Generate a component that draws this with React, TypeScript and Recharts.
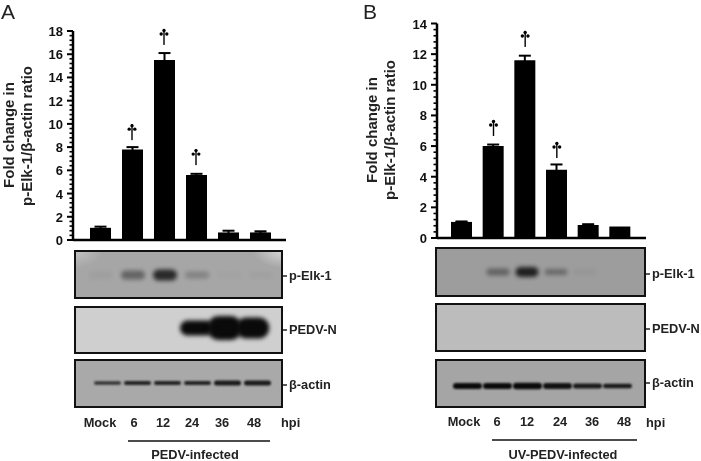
import { ComposedChart, BarChart, Bar, Line, XAxis, YAxis, ErrorBar } from 'recharts';

// bar panels
const hours = ['Mock', '6', '12', '24', '36', '48'];
const foldA = [1.05, 7.8, 15.5, 5.6, 0.65, 0.65];
const errA = [0.1, 0.2, 0.6, 0.1, 0.15, 0.1];
const markA = [null, 8.6, 16.8, 6.45, null, null];
const foldB = [1.05, 6.0, 11.6, 4.45, 0.85, 0.75];
const errB = [0.03, 0.1, 0.3, 0.35, 0.05, 0];
const markB = [null, 6.66, 12.47, 5.22, null, null];
const majorA = [0, 2, 4, 6, 8, 10, 12, 14, 16, 18];
const majorB = [0, 2, 4, 6, 8, 10, 12, 14];

// blot bands, one value per lane (darkness, then height)
const elkA = [0.04, 0.42, 0.8, 0.22, 0.02, 0.03];
const elkHeightA = [8, 9, 11, 7, 6, 6];
const pedvA = [0, 0, 0, 1, 1, 1];
const pedvHeightA = [0, 0, 0, 15, 24, 21];
const actinA = [0.75, 0.85, 0.85, 0.85, 0.9, 0.9];
const actinHeightA = [3.5, 4, 4, 4, 5, 5];
const elkB = [0, 0.4, 0.85, 0.35, 0.05, 0];
const elkHeightB = [6, 7, 10, 6, 5, 5];
const pedvB = [0, 0, 0, 0, 0, 0];
const actinB = [1, 1, 1, 0.95, 0.9, 0.9];
const actinHeightB = [6, 6, 6.5, 6, 5, 4.5];

const FONT = '"Liberation Sans", Arial, sans-serif';

const withMinor = (major: number[]) => {
  const out: number[] = [];
  major.forEach((m, i) => {
    out.push(m);
    if (i < major.length - 1) for (let k = 1; k < 5; k++) out.push(+(m + k * 0.4).toFixed(1));
  });
  return out;
};

const YTick = ({ x, y, payload }: any) => {
  const major = payload.value % 2 === 0;
  return (
    <g>
      <line x1={x - (major ? 6 : 3.5)} x2={x} y1={y} y2={y} stroke="#000" strokeWidth={major ? 2 : 1.6} />
      {major && (
        <text x={x - 10} y={y + 5} textAnchor="end" fontFamily={FONT} fontWeight={700} fontSize={13} fill="#111">
          {payload.value}
        </text>
      )}
    </g>
  );
};

const Dagger = ({ cx, cy, index }: any) => {
  if (cy == null || Number.isNaN(cy)) return <g key={index} />;
  return (
    <g key={index} fill="#000">
      <rect x={cx - 0.7} y={cy - 16} width={1.4} height={16} />
      <circle cx={cx} cy={cy - 14.5} r={1.7} />
      <circle cx={cx - 2.8} cy={cy - 11} r={1.7} />
      <circle cx={cx + 2.8} cy={cy - 11} r={1.7} />
    </g>
  );
};

function FoldChart({ left, width, height, plot, fold, err, mark, major, max, pad }: any) {
  const data = hours.map((h, i) => ({ h, fold: fold[i], err: err[i], mark: mark[i] }));
  return (
    <div style={{ position: 'absolute', left, top: 0 }}>
      <ComposedChart width={width} height={height} data={data} margin={plot}>
        <XAxis dataKey="h" tick={false} tickLine={false} height={1} padding={pad} axisLine={{ stroke: '#000', strokeWidth: 2.5 }} />
        <YAxis
          width={plot.axis}
          domain={[0, max]}
          ticks={withMinor(major)}
          interval={0}
          tickSize={0}
          tickMargin={0}
          tick={<YTick />}
          tickLine={false}
          axisLine={{ stroke: '#000', strokeWidth: 2.5 }}
        />
        <Bar dataKey="fold" fill="#000" barSize={21} isAnimationActive={false}>
          <ErrorBar dataKey="err" direction="y" width={6} strokeWidth={2} stroke="#000" isAnimationActive={false} />
        </Bar>
        <Line dataKey="mark" stroke="none" dot={<Dagger />} activeDot={false} isAnimationActive={false} />
      </ComposedChart>
    </div>
  );
}

const Band = ({ x, width, payload, bandY, blur, spread }: any) => {
  if (!payload.dark) return <g />;
  return (
    <rect
      x={x - spread}
      y={bandY - payload.tall / 2}
      width={width + 2 * spread}
      height={payload.tall}
      rx={Math.min(payload.tall / 2, 10)}
      fill="#0a0a0a"
      opacity={payload.dark}
      style={{ filter: `blur(${blur}px)` }}
    />
  );
};

function Blot({ x, y, w, h, bg, dark, tall, edge, bandY, bandW, blur, spread = 0 }: any) {
  const data = hours.map((lane, i) => ({ lane, dark: dark[i], tall: tall ? tall[i] : 0, v: 1 }));
  return (
    <div style={{ position: 'absolute', left: x, top: y, width: w, height: h, background: bg, overflow: 'hidden' }}>
      <BarChart width={w} height={h} data={data} margin={{ left: edge[0], right: edge[1], top: 0, bottom: 0 }}>
        <XAxis dataKey="lane" hide />
        <YAxis hide domain={[0, 1]} />
        <Bar dataKey="v" barSize={bandW} isAnimationActive={false} shape={<Band bandY={bandY} blur={blur} spread={spread} />} />
      </BarChart>
      <div style={{ position: 'absolute', inset: 0, border: '2.5px solid #111', boxSizing: 'border-box' }} />
    </div>
  );
}

const softCorners = (c: string) =>
  `radial-gradient(ellipse 30px 18px at 100% 0, #d8d8d8, transparent), radial-gradient(ellipse 30px 18px at 0 0, #c4c4c4, transparent), ${c}`;

const labelStyle = { fontFamily: FONT, fontWeight: 700, fontSize: 12.8, fill: '#222' };

export default function App() {
  return (
    <div style={{ position: 'absolute', left: 0, top: 0, width: 701, height: 461, background: '#fff', overflow: 'hidden', filter: 'blur(0.35px)' }}>
      <FoldChart
        left={0}
        width={350}
        height={250}
        plot={{ left: 0, right: 64, top: 31, bottom: 9, axis: 73 }}
        fold={foldA}
        err={errA}
        mark={markA}
        major={majorA}
        max={18}
        pad={{ left: 11, right: 10 }}
      />
      <FoldChart
        left={350}
        width={351}
        height={248}
        plot={{ left: 0, right: 55, top: 23.5, bottom: 9, axis: 87 }}
        fold={foldB}
        err={errB}
        mark={markB}
        major={majorB}
        max={14}
        pad={{ left: 9, right: 10 }}
      />

      <Blot x={74} y={250} w={209} h={49} bg={softCorners('#a6a6a6')} dark={elkA} tall={elkHeightA} edge={[11, 6]} bandY={25} bandW={24} blur={2.2} />
      <Blot x={74} y={306} w={209} h={48} bg="#cfcfcf" dark={pedvA} tall={pedvHeightA} edge={[25, 16]} bandY={22} bandW={28} blur={2} spread={4} />
      <Blot x={74} y={359} w={209} h={49} bg="#a9a9a9" dark={actinA} tall={actinHeightA} edge={[18, 11]} bandY={24} bandW={27} blur={0.8} />

      <Blot x={435} y={247} w={211} h={50} bg="#9d9d9d" dark={elkB} tall={elkHeightB} edge={[19.5, 17.5]} bandY={25} bandW={23} blur={2.2} />
      <Blot x={435} y={303} w={211} h={49} bg="#bcbcbc" dark={pedvB} edge={[17, 14]} bandY={24} bandW={27} blur={1} />
      <Blot x={435} y={359} w={211} h={49} bg="#a5a5a5" dark={actinB} tall={actinHeightB} edge={[17, 14]} bandY={27} bandW={29} blur={0.8} />

      <svg width={701} height={461} style={{ position: 'absolute', left: 0, top: 0 }}>
        <text x={1} y={19} fontFamily={FONT} fontSize={21} fill="#222">A</text>
        <text x={363} y={19} fontFamily={FONT} fontSize={21} fill="#222">B</text>

        {[[14, 135], [32, 136], [377, 130], [395, 130]].map(([x, y], i) => (
          <text key={i} transform={`translate(${x},${y}) rotate(-90)`} textAnchor="middle" fontFamily={FONT} fontWeight={700} fontSize={15} fill="#222">
            {i % 2 === 0 ? 'Fold change in' : 'p-Elk-1/β-actin ratio'}
          </text>
        ))}

        {[[283, 276, 'p-Elk-1'], [283, 330, 'PEDV-N'], [283, 385, 'β-actin'], [646, 274, 'p-Elk-1'], [646, 329, 'PEDV-N'], [646, 383, 'β-actin']].map(([x, y, t]: any) => (
          <g key={`${x}-${t}`}>
            <line x1={x} x2={x + 4} y1={y} y2={y} stroke="#222" strokeWidth={1.5} />
            <text x={x + 6} y={y + 4} {...labelStyle}>{t}</text>
          </g>
        ))}

        {hours.map((t, i) => (
          <text key={t} x={[100, 134, 163, 192, 222, 254][i]} y={427} textAnchor="middle" {...labelStyle}>{t}</text>
        ))}
        <text x={281} y={427} {...labelStyle}>hpi</text>
        <line x1={128} x2={270} y1={441} y2={441} stroke="#111" strokeWidth={1.5} />
        <text x={195} y={459} textAnchor="middle" {...labelStyle}>PEDV-infected</text>

        {hours.map((t, i) => (
          <text key={t} x={[464, 497, 527, 560, 592, 624][i]} y={426} textAnchor="middle" {...labelStyle}>{t}</text>
        ))}
        <text x={646} y={427} {...labelStyle}>hpi</text>
        <line x1={492} x2={637} y1={440} y2={440} stroke="#111" strokeWidth={1.5} />
        <text x={563} y={459} textAnchor="middle" {...labelStyle}>UV-PEDV-infected</text>
      </svg>
    </div>
  );
}
